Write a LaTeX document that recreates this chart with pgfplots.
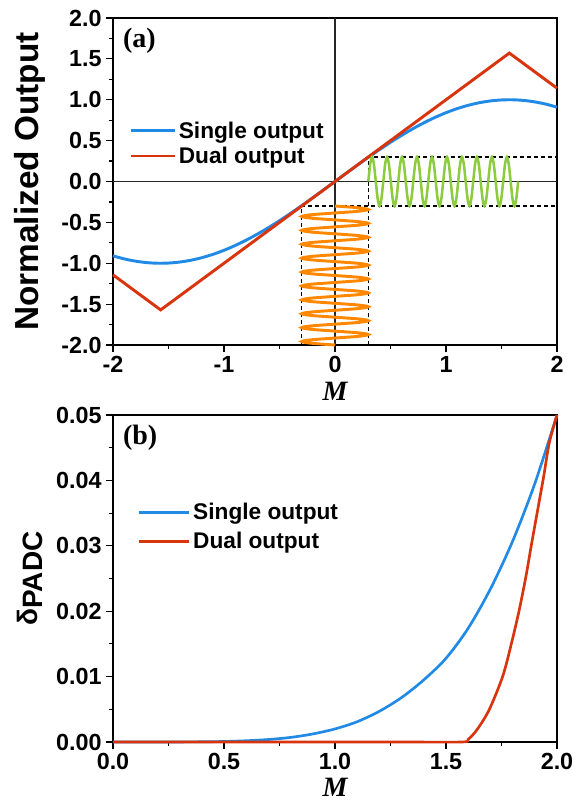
\documentclass[border=0pt]{standalone}
\usepackage{fontspec}
\setmainfont{Liberation Sans}
\newfontfamily\timesfont{Liberation Serif}
\usepackage{pgfplots}
\pgfplotsset{compat=1.18}
\definecolor{singleblue}{RGB}{33,138,228}
\definecolor{dualred}{RGB}{216,52,14}
\definecolor{inorange}{RGB}{255,136,0}
\definecolor{outgreen}{RGB}{140,204,62}

\pgfplotsset{
  panel/.style={
    scale only axis, width=333pt, height=245.25pt,
    axis line style={line width=1.1pt},
    tick align=outside, xtick pos=bottom, ytick pos=left,
    major tick length=5pt, minor tick length=3pt,
    every tick/.style={black, line width=0.9pt},
    minor x tick num=1, minor y tick num=1,
    tick label style={font=\fontsize{17.5}{20}\selectfont\bfseries},
    /pgf/number format/assume math mode=true,
    clip=false,
    xlabel={\timesfont\bfseries\itshape M},
    legend cell align=left,
    legend style={draw=none, fill=none, anchor=north west,
      font=\fontsize{17}{20}\selectfont\bfseries},
  },
  gapline/.style={black, line width=0.85pt, dash pattern=on 3pt off 2.2pt},
}

\begin{document}
\begin{tikzpicture}
\path[use as bounding box] (0,0) rectangle (430.5pt,603pt);

% ---------- panel (a)
\begin{axis}[panel,
  at={(84.75pt,344.25pt)}, anchor=south west,
  xmin=-2, xmax=2, ymin=-2, ymax=2,
  xtick={-2,-1,0,1,2},
  ytick={-2,-1.5,...,2},
  yticklabel style={/pgf/number format/.cd, fixed, fixed zerofill, precision=1},
  xlabel style={font=\fontsize{21}{24}\selectfont, inner sep=0pt, at={(axis description cs:0.5,-0.141)}, anchor=center},
  ylabel={Normalized Output},
  ylabel style={font=\fontsize{25}{28}\selectfont\bfseries, at={(axis description cs:-0.187,0.5)}, anchor=center},
  legend style={at={(axis description cs:0.027,0.70)}, row sep=1pt},
  legend image code/.code={\draw[#1, line width=2.2pt] (0pt,0pt) -- (33pt,0pt);},
]
\addplot[black!85, line width=0.9pt, forget plot] coordinates {(-2,0) (2,0)};
\addplot[black!85, line width=0.9pt, forget plot] coordinates {(0,-2) (0,2)};
\addplot[gapline, forget plot] coordinates {(-0.3,-2) (-0.3,-0.3) (2,-0.3)};
\addplot[gapline, forget plot] coordinates {(0.3,-2) (0.3,0.3) (2,0.3)};

\addplot[singleblue, line width=2.2pt, smooth] coordinates {
  (-2.0,-0.9093) (-1.9,-0.9463) (-1.8,-0.9738) (-1.7,-0.9917) (-1.6,-0.9996)
  (-1.5,-0.9975) (-1.4,-0.9854) (-1.3,-0.9636) (-1.2,-0.9320) (-1.1,-0.8912)
  (-1.0,-0.8415) (-0.9,-0.7833) (-0.8,-0.7174) (-0.7,-0.6442) (-0.6,-0.5646)
  (-0.5,-0.4794) (-0.4,-0.3894) (-0.3,-0.2955) (-0.2,-0.1987) (-0.1,-0.0998)
  (0,0)
  (0.1,0.0998) (0.2,0.1987) (0.3,0.2955) (0.4,0.3894) (0.5,0.4794)
  (0.6,0.5646) (0.7,0.6442) (0.8,0.7174) (0.9,0.7833) (1.0,0.8415)
  (1.1,0.8912) (1.2,0.9320) (1.3,0.9636) (1.4,0.9854) (1.5,0.9975)
  (1.6,0.9996) (1.7,0.9917) (1.8,0.9738) (1.9,0.9463) (2.0,0.9093)
};
\addlegendentry{Single output}
\addplot[dualred, line width=2.2pt] coordinates {
  (-2,-1.1416) (-1.5708,-1.5708) (1.5708,1.5708) (2,1.1416)
};
\addlegendentry{Dual output}

\addplot[inorange, line width=2.2pt, smooth, forget plot] coordinates {
  (0,-0.3000) (0.2121,-0.3213) (0.3,-0.3425) (0.2121,-0.3638) (0,-0.3850) (-0.2121,-0.4063) (-0.3,-0.4275) (-0.2121,-0.4488)
  (0,-0.4700) (0.2121,-0.4913) (0.3,-0.5125) (0.2121,-0.5338) (0,-0.5550) (-0.2121,-0.5763) (-0.3,-0.5975) (-0.2121,-0.6188)
  (0,-0.6400) (0.2121,-0.6613) (0.3,-0.6825) (0.2121,-0.7038) (0,-0.7250) (-0.2121,-0.7463) (-0.3,-0.7675) (-0.2121,-0.7888)
  (0,-0.8100) (0.2121,-0.8313) (0.3,-0.8525) (0.2121,-0.8738) (0,-0.8950) (-0.2121,-0.9163) (-0.3,-0.9375) (-0.2121,-0.9588)
  (0,-0.9800) (0.2121,-1.0013) (0.3,-1.0225) (0.2121,-1.0438) (0,-1.0650) (-0.2121,-1.0863) (-0.3,-1.1075) (-0.2121,-1.1288)
  (0,-1.1500) (0.2121,-1.1713) (0.3,-1.1925) (0.2121,-1.2138) (0,-1.2350) (-0.2121,-1.2563) (-0.3,-1.2775) (-0.2121,-1.2988)
  (0,-1.3200) (0.2121,-1.3413) (0.3,-1.3625) (0.2121,-1.3838) (0,-1.4050) (-0.2121,-1.4263) (-0.3,-1.4475) (-0.2121,-1.4688)
  (0,-1.4900) (0.2121,-1.5113) (0.3,-1.5325) (0.2121,-1.5538) (0,-1.5750) (-0.2121,-1.5963) (-0.3,-1.6175) (-0.2121,-1.6388)
  (0,-1.6600) (0.2121,-1.6813) (0.3,-1.7025) (0.2121,-1.7238) (0,-1.7450) (-0.2121,-1.7663) (-0.3,-1.7875) (-0.2121,-1.8088)
  (0,-1.8300) (0.2121,-1.8513) (0.3,-1.8725) (0.2121,-1.8938) (0,-1.9150) (-0.2121,-1.9363) (-0.3,-1.9575) (-0.2121,-1.9788)
  (0,-2.0000)
};
\addplot[outgreen, line width=1.9pt, smooth, forget plot] coordinates {
  (0.3000,0) (0.3169,0.2121) (0.3338,0.3) (0.3506,0.2121) (0.3675,0) (0.3844,-0.2121) (0.4013,-0.3) (0.4181,-0.2121)
  (0.4350,0) (0.4519,0.2121) (0.4688,0.3) (0.4856,0.2121) (0.5025,0) (0.5194,-0.2121) (0.5363,-0.3) (0.5531,-0.2121)
  (0.5700,0) (0.5869,0.2121) (0.6038,0.3) (0.6206,0.2121) (0.6375,0) (0.6544,-0.2121) (0.6713,-0.3) (0.6881,-0.2121)
  (0.7050,0) (0.7219,0.2121) (0.7388,0.3) (0.7556,0.2121) (0.7725,0) (0.7894,-0.2121) (0.8063,-0.3) (0.8231,-0.2121)
  (0.8400,0) (0.8569,0.2121) (0.8738,0.3) (0.8906,0.2121) (0.9075,0) (0.9244,-0.2121) (0.9413,-0.3) (0.9581,-0.2121)
  (0.9750,0) (0.9919,0.2121) (1.0088,0.3) (1.0256,0.2121) (1.0425,0) (1.0594,-0.2121) (1.0763,-0.3) (1.0931,-0.2121)
  (1.1100,0) (1.1269,0.2121) (1.1438,0.3) (1.1606,0.2121) (1.1775,0) (1.1944,-0.2121) (1.2113,-0.3) (1.2281,-0.2121)
  (1.2450,0) (1.2619,0.2121) (1.2788,0.3) (1.2956,0.2121) (1.3125,0) (1.3294,-0.2121) (1.3463,-0.3) (1.3631,-0.2121)
  (1.3800,0) (1.3969,0.2121) (1.4138,0.3) (1.4306,0.2121) (1.4475,0) (1.4644,-0.2121) (1.4813,-0.3) (1.4981,-0.2121)
  (1.5150,0) (1.5319,0.2121) (1.5488,0.3) (1.5656,0.2121) (1.5825,0) (1.5994,-0.2121) (1.6163,-0.3) (1.6331,-0.2121)
  (1.6500,0)
};
\node[anchor=west, font=\timesfont\bfseries\fontsize{21}{24}\selectfont] at (rel axis cs:0.012,0.93) {(a)};
\end{axis}

% ---------- panel (b)
\begin{axis}[panel,
  at={(84.75pt,46.5pt)}, anchor=south west,
  xmin=0, xmax=2, ymin=0, ymax=0.05,
  xtick={0,0.5,...,2},
  ytick={0,0.01,...,0.05},
  scaled y ticks=false,
  xticklabel style={/pgf/number format/.cd, fixed, fixed zerofill, precision=1},
  yticklabel style={/pgf/number format/.cd, fixed, fixed zerofill, precision=2},
  xlabel style={font=\fontsize{21}{24}\selectfont, inner sep=0pt, at={(axis description cs:0.5,-0.14)}, anchor=center},
  ylabel={δ\raisebox{-0.15em}{PADC}},
  ylabel style={font=\fontsize{21}{24}\selectfont\bfseries, at={(axis description cs:-0.187,0.5)}, anchor=center},
  legend style={at={(axis description cs:0.045,0.748)}, row sep=4pt},
  legend image code/.code={\draw[#1, line width=2pt] (0pt,0pt) -- (38pt,0pt);},
]
\addplot[singleblue, line width=2pt, smooth] coordinates {
  (0,0) (0.1,0) (0.2,0) (0.3,0.00001) (0.4,0.00003) (0.5,0.00008)
  (0.6,0.00019) (0.7,0.00038) (0.8,0.0007) (0.9,0.00123) (1.0,0.0020)
  (1.1,0.0031) (1.2,0.0047) (1.3,0.0068) (1.4,0.0095) (1.5,0.0128)
  (1.6,0.0174) (1.7,0.0234) (1.8,0.0307) (1.9,0.0395) (2.0,0.05)
};
\addlegendentry{Single output}
\addplot[dualred, line width=2pt, smooth] coordinates {
  (0,0) (0.5,0) (1.0,0) (1.3,0) (1.5708,0) (1.60,0.0004) (1.64,0.0019)
  (1.694,0.0049) (1.755,0.0100) (1.795,0.0151) (1.830,0.0202) (1.860,0.0253)
  (1.886,0.0304) (1.913,0.0355) (1.940,0.0406) (1.965,0.0457) (2.0,0.05)
};
\addlegendentry{Dual output}
\node[anchor=west, font=\timesfont\bfseries\fontsize{21}{24}\selectfont] at (rel axis cs:0.012,0.93) {(b)};
\end{axis}
\end{tikzpicture}
\end{document}
